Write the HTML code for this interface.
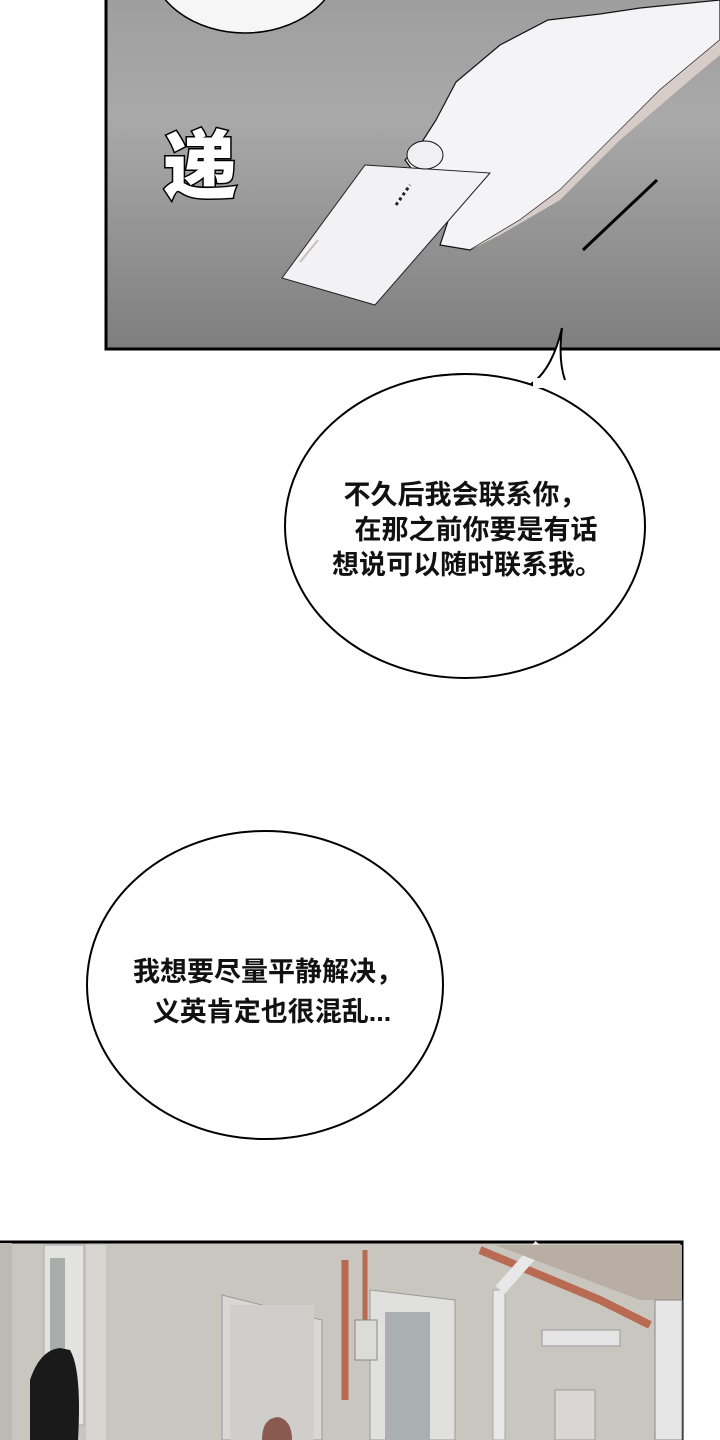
<!DOCTYPE html>
<html><head><meta charset="utf-8"><style>
html,body{margin:0;padding:0;background:#fff;}
svg{display:block}
</style></head><body>
<svg width="720" height="1440" viewBox="0 0 720 1440" xmlns="http://www.w3.org/2000/svg">
<defs>
<linearGradient id="g1" x1="0" y1="0" x2="0" y2="1">
<stop offset="0" stop-color="#9e9e9e"/><stop offset="0.35" stop-color="#a9a9a9"/><stop offset="1" stop-color="#7e7e7e"/>
</linearGradient>
</defs>
<rect width="720" height="1440" fill="#fff"/>
<rect x="106" y="-5" width="620" height="354" fill="url(#g1)" stroke="#000" stroke-width="3"/>
<ellipse cx="245" cy="-40" rx="95" ry="73" fill="#f6f6f6" stroke="#000" stroke-width="1.5"/>
<path d="M720,0 L640,8 L600,14 L548,20 L500,45 L456,82 L436,120 L420,145 L405,160 L420,180 L455,200 L440,245 L470,250 L520,220 L560,190 L600,150 L660,90 L720,40 Z" fill="#f4f4f6" stroke="#111" stroke-width="1.2"/>
<path d="M720,40 L660,90 L600,150 L560,190 L520,220 L470,250 L500,235 L560,200 L620,140 L690,80 L720,55Z" fill="#d8ccc8"/>
<path d="M282,278 L365,165 L490,173 L375,305 Z" fill="#f2f2f4" stroke="#222" stroke-width="1"/>
<ellipse cx="425" cy="155" rx="18" ry="14" fill="#f0f0f2" stroke="#111" stroke-width="1"/>
<line x1="396" y1="205" x2="410" y2="185" stroke="#222" stroke-width="3" stroke-dasharray="3 3"/>
<line x1="300" y1="262" x2="318" y2="240" stroke="#cbbdb8" stroke-width="2"/>
<line x1="583" y1="250" x2="657" y2="180" stroke="#000" stroke-width="3"/>
<text x="163" y="192" font-family="'Noto Sans CJK SC',sans-serif" font-weight="900" font-size="74" fill="#fff" stroke="#000" stroke-width="3" paint-order="stroke">递</text>
<ellipse cx="465" cy="526" rx="180" ry="152" fill="#fff" stroke="#000" stroke-width="2"/>
<path d="M531,384 Q552,370 562,328 Q558,360 565,380" fill="#fff" stroke="#000" stroke-width="2"/>
<rect x="533" y="378" width="30" height="10" fill="#fff"/>
<g font-family="'Liberation Sans','Noto Sans CJK SC',sans-serif" font-weight="bold" font-size="27" fill="#111" text-anchor="middle">
<text x="465" y="504">不久后我会联系你，</text>
<text x="476" y="539">在那之前你要是有话</text>
<text x="467" y="574">想说可以随时联系我。</text>
</g>
<ellipse cx="265" cy="985" rx="178" ry="154" fill="#fff" stroke="#000" stroke-width="2"/>
<g font-family="'Liberation Sans','Noto Sans CJK SC',sans-serif" font-weight="bold" font-size="27" fill="#111" text-anchor="middle">
<text x="268" y="981">我想要尽量平静解决，</text>
<text x="272" y="1021">义英肯定也很混乱...</text>
</g>
<rect x="-5" y="1242" width="687" height="210" fill="#c9c6c0" stroke="#000" stroke-width="3"/>
<rect x="0" y="1243" width="12" height="197" fill="#bdbab4"/>
<rect x="44" y="1245" width="40" height="180" fill="#e2e2e0" stroke="#aaa"/>
<rect x="50" y="1258" width="15" height="160" fill="#a9acaa"/>
<rect x="86" y="1245" width="20" height="195" fill="#d6d5d2"/>
<path d="M222,1295 L322,1320 L322,1440 L222,1440 Z" fill="#d8d7d4" stroke="#999"/>
<rect x="230" y="1305" width="84" height="135" fill="#cfcecb"/>
<path d="M370,1290 L455,1300 L455,1440 L370,1440Z" fill="#e0e0de" stroke="#999"/>
<rect x="385" y="1312" width="45" height="128" fill="#aab0af"/>
<path d="M345,1260 L345,1400" stroke="#b86a52" stroke-width="7"/>
<path d="M365,1250 L365,1340" stroke="#b86a52" stroke-width="5"/>
<rect x="355" y="1320" width="22" height="40" fill="#dcdcd6" stroke="#888"/>
<path d="M480,1250 L600,1300 L650,1325" stroke="#b86a52" stroke-width="8" fill="none"/>
<rect x="493" y="1290" width="12" height="150" fill="#e8e8e8" stroke="#aaa"/>
<path d="M500,1290 L540,1245" stroke="#e8e8e8" stroke-width="12"/>
<rect x="542" y="1330" width="78" height="16" fill="#e4e4e4" stroke="#999"/>
<path d="M495,1245 L682,1245 L682,1300 L640,1300 Z" fill="#b9aea4"/>
<rect x="655" y="1300" width="27" height="140" fill="#e6e6e6" stroke="#888"/>
<rect x="555" y="1390" width="40" height="50" fill="#d8d7d4" stroke="#999"/>
<path d="M30,1440 L30,1380 Q40,1350 60,1348 L70,1350 Q82,1370 78,1440 Z" fill="#1a1a1a"/>
<path d="M262,1440 Q262,1418 278,1417 Q292,1420 292,1440 Z" fill="#8a5a50"/>
</svg>
</body></html>
